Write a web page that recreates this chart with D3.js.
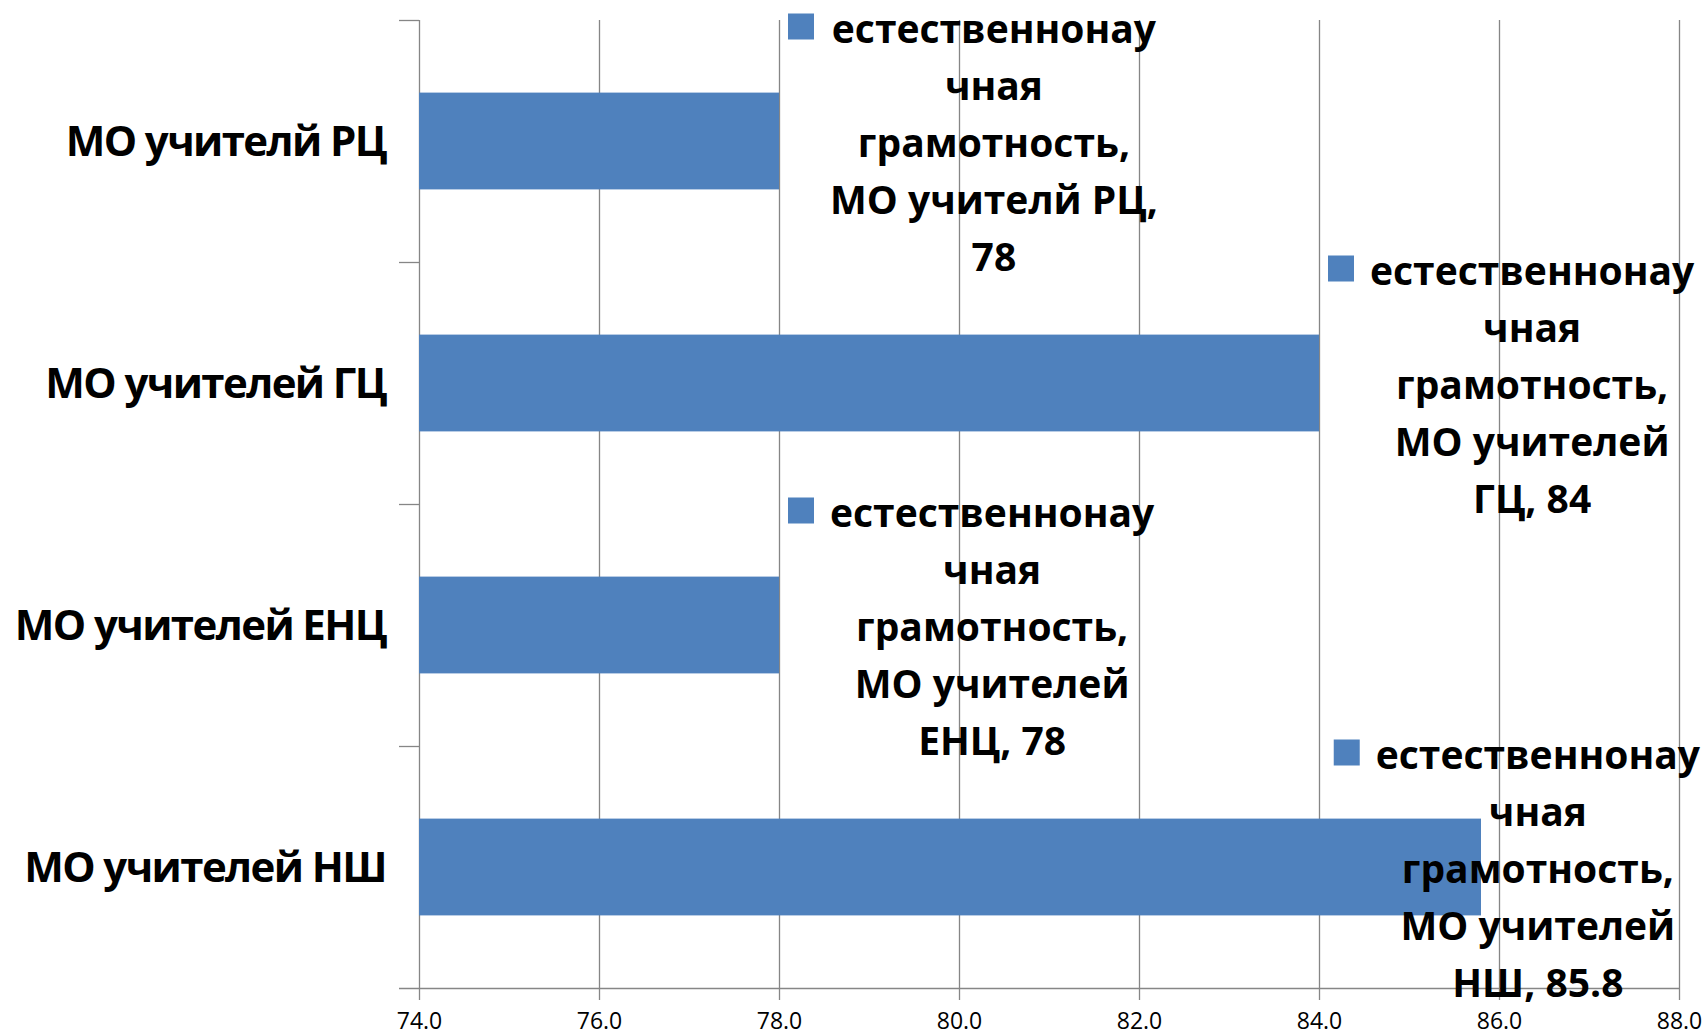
<!DOCTYPE html>
<html>
<head>
<meta charset="utf-8">
<script src="https://cdn.jsdelivr.net/npm/d3@7"></script>
<style>
  html, body { margin: 0; padding: 0; background: #fff; }
  svg { display: block; }
</style>
</head>
<body>
<svg id="chart" width="1708" height="1036"></svg>
<script>
// ---- data ----
const categories = ["МО учителй РЦ", "МО учителей ГЦ", "МО учителей ЕНЦ", "МО учителей НШ"];
const values = [78, 84, 78, 85.8];
const seriesName = "естественнонаучная грамотность";
const xTicks = [74, 76, 78, 80, 82, 84, 86, 88];
const xDomain = [74, 88];

// ---- layout ----
const W = 1708, H = 1036;
const plot = { left: 419, right: 1679, top: 20, bottom: 988 };
const barColor = "#4F81BD";
const gridColor = "#868686";
const FONT = "'Open Sans', 'Noto Sans', sans-serif";

const svg = d3.select("#chart");

const x = d3.scaleLinear().domain(xDomain).range([plot.left, plot.right]);
const y = d3.scaleBand().domain(categories).range([plot.top, plot.bottom])
  .paddingInner(0.6).paddingOuter(0.3);

// gridlines
svg.append("g").selectAll("line").data(xTicks.slice(1)).join("line")
  .attr("x1", d => Math.round(x(d)) + 0.5).attr("x2", d => Math.round(x(d)) + 0.5)
  .attr("y1", plot.top).attr("y2", plot.bottom)
  .attr("stroke", gridColor).attr("stroke-width", 1.3);

// x axis
const xAxis = d3.axisBottom(x).tickValues(xTicks).tickFormat(d3.format(".1f"))
  .tickSize(12).tickPadding(4);
const gx = svg.append("g").attr("transform", `translate(0,${plot.bottom})`).call(xAxis);
gx.select(".domain").remove();
gx.selectAll(".tick line").attr("stroke", gridColor).attr("stroke-width", 1.3);
gx.selectAll(".tick text").attr("font-family", FONT).attr("font-size", 23)
  .attr("fill", "#000").attr("y", 41).attr("dy", 0);
svg.append("line").attr("x1", plot.left - 20).attr("x2", plot.right)
  .attr("y1", plot.bottom + 0.5).attr("y2", plot.bottom + 0.5)
  .attr("stroke", gridColor).attr("stroke-width", 1.3);

// y axis (band boundaries as ticks)
svg.append("line").attr("x1", plot.left + 0.5).attr("x2", plot.left + 0.5)
  .attr("y1", plot.top).attr("y2", plot.bottom)
  .attr("stroke", gridColor).attr("stroke-width", 1.3);
const step = y.step();
const boundaries = d3.range(categories.length).map(i => plot.top + i * step);
svg.append("g").selectAll("line").data(boundaries).join("line")
  .attr("x1", plot.left - 20).attr("x2", plot.left)
  .attr("y1", d => Math.round(d) + 0.5).attr("y2", d => Math.round(d) + 0.5)
  .attr("stroke", gridColor).attr("stroke-width", 1.3);

// category labels
svg.append("g").selectAll("text").data(categories).join("text")
  .attr("x", 386).attr("y", d => y(d) + y.bandwidth() / 2)
  .attr("dy", "0.36em")
  .attr("text-anchor", "end")
  .attr("font-family", FONT).attr("font-weight", "bold").attr("font-size", 42)
  .attr("letter-spacing", -1.6)
  .attr("fill", "#000")
  .text(d => d);

// bars
svg.append("g").selectAll("rect").data(categories).join("rect")
  .attr("x", x(xDomain[0]))
  .attr("y", d => y(d))
  .attr("width", (d, i) => x(values[i]) - x(xDomain[0]))
  .attr("height", y.bandwidth())
  .attr("fill", barColor);

// data labels
const LFS = 39, LH = 57, KEY = 26, GAP = 16;
const measurer = svg.append("text").attr("font-family", FONT)
  .attr("font-weight", "bold").attr("font-size", LFS).attr("visibility", "hidden");
function tw(s) { measurer.text(s); return measurer.node().getComputedTextLength(); }
const MAXW = 8.5 * LFS;
function wrap(str) {
  const words = str.split(" ");
  const lines = [];
  let cur = "";
  for (let w of words) {
    const cand = cur ? cur + " " + w : w;
    if (tw(cand) <= MAXW) { cur = cand; continue; }
    if (cur) { lines.push(cur); cur = ""; }
    while (tw(w) > MAXW) {
      let k = w.length;
      while (k > 1 && tw(w.slice(0, k)) > MAXW) k--;
      lines.push(w.slice(0, k));
      w = w.slice(k);
    }
    cur = w;
  }
  if (cur) lines.push(cur);
  return lines;
}

const lg = svg.append("g");
categories.forEach((c, i) => {
  const lines = wrap(`${seriesName}, ${c}, ${values[i]}`);
  const bw = d3.max(lines, tw);
  let left = x(values[i]) + 9;
  let cx = left + KEY + GAP + bw / 2;
  const maxRight = 1700;
  if (cx + bw / 2 > maxRight) cx = maxRight - bw / 2;
  const cy = y(c) + y.bandwidth() / 2 + 1.5;
  const n = lines.length;
  const g = lg.append("g");
  lines.forEach((ln, j) => {
    g.append("text")
      .attr("x", cx).attr("y", cy + (j - (n - 1) / 2) * LH)
      .attr("dy", "0.36em")
      .attr("text-anchor", "middle")
      .attr("font-family", FONT).attr("font-weight", "bold").attr("font-size", LFS)
      .attr("fill", "#000")
      .text(ln);
  });
  const line1y = cy - (n - 1) / 2 * LH;
  g.append("rect")
    .attr("x", cx - bw / 2 - GAP - KEY)
    .attr("y", line1y - 2 - KEY / 2)
    .attr("width", KEY).attr("height", KEY)
    .attr("fill", barColor);
});
measurer.remove();
</script>
</body>
</html>
